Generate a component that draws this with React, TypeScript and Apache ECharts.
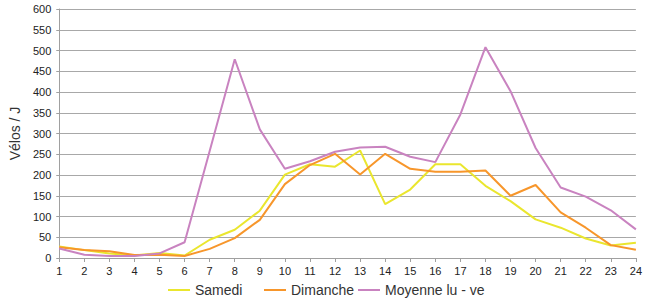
import React, { useEffect, useRef } from "react";
import * as echarts from "echarts";

const hours = ["1","2","3","4","5","6","7","8","9","10","11","12","13","14","15","16","17","18","19","20","21","22","23","24"];
const samedi = [28, 19, 11, 6, 12, 6, 44, 68, 114, 201, 226, 220, 259, 130, 165, 226, 226, 174, 137, 93, 73, 47, 30, 37];
const dimanche = [26, 19, 16, 7, 8, 5, 22, 48, 92, 178, 224, 251, 201, 251, 215, 208, 208, 211, 150, 176, 110, 73, 31, 20];
const moyenne = [23, 8, 5, 5, 11, 38, 258, 479, 310, 215, 233, 256, 266, 268, 244, 231, 346, 508, 402, 265, 170, 148, 115, 69];

const FONT = "'Liberation Sans', Arial, sans-serif";
const COLORS = { samedi: "#EAE62E", dimanche: "#F7962B", moyenne: "#C983C0" };

export default function App() {
  const ref = useRef<HTMLDivElement>(null);
  useEffect(() => {
    if (!ref.current) return;
    const chart = echarts.init(ref.current, null, { renderer: "svg" });
    const legendBase = {
      top: 283,
      icon: "rect",
      itemWidth: 22,
      itemHeight: 2,
      itemGap: 1,
      textStyle: { fontFamily: FONT, fontSize: 14, color: "#333" },
      padding: 0,
    };
    chart.setOption({
      animation: false,
      textStyle: { fontFamily: FONT },
      grid: { left: 56, right: 6, top: 9, bottom: 43, containLabel: false },
      legend: [
        { ...legendBase, left: 168, data: ["Samedi"] },
        { ...legendBase, left: 264, data: ["Dimanche"] },
        { ...legendBase, left: 358, data: ["Moyenne lu - ve"] },
      ],
      xAxis: {
        type: "category",
        data: hours,
        boundaryGap: false,
        axisLine: { lineStyle: { color: "#a0a0a0", width: 1 } },
        axisTick: { show: true, length: 4, alignWithLabel: true, lineStyle: { color: "#a0a0a0" } },
        axisLabel: { color: "#222", fontSize: 11, margin: 7, fontFamily: FONT, interval: 0 },
      },
      yAxis: {
        type: "value",
        min: 0,
        max: 600,
        interval: 50,
        name: "Vélos / J",
        nameLocation: "middle",
        nameGap: 33,
        nameTextStyle: { fontFamily: FONT, fontSize: 14, color: "#333" },
        axisLine: { show: true, lineStyle: { color: "#a0a0a0" } },
        axisTick: { show: true, length: 3, lineStyle: { color: "#a0a0a0" } },
        axisLabel: { color: "#222", fontSize: 11, margin: 8, fontFamily: FONT },
        splitLine: { lineStyle: { color: "#a8a8a8", width: 1 } },
      },
      series: [
        { name: "Samedi", type: "line", data: samedi, symbol: "none", lineStyle: { color: COLORS.samedi, width: 2 }, itemStyle: { color: COLORS.samedi } },
        { name: "Dimanche", type: "line", data: dimanche, symbol: "none", lineStyle: { color: COLORS.dimanche, width: 2 }, itemStyle: { color: COLORS.dimanche } },
        { name: "Moyenne lu - ve", type: "line", data: moyenne, symbol: "none", lineStyle: { color: COLORS.moyenne, width: 2 }, itemStyle: { color: COLORS.moyenne } },
      ],
    });
    return () => chart.dispose();
  }, []);
  return <div ref={ref} style={{ width: 645, height: 301, position: "absolute", left: 0, top: 0 }} />;
}
